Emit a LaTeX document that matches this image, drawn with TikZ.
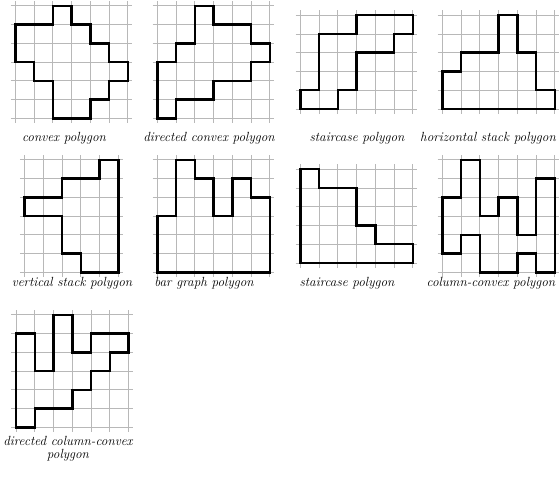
\documentclass[tikz,border=0pt]{standalone}
\tikzset{
  gridline/.style={draw=black!28, line width=0.8bp},
  polyline/.style={draw=black, line width=2.5bp, line join=miter},
  lab/.style={font=\fontsize{13.3}{13.5}\selectfont\itshape, inner sep=0pt, anchor=center, align=center},
}
\newcommand\gridpanel[5]{%
  \begin{scope}[shift={(#1bp,-#2bp)}, x=18.75bp, y=18.75bp]
    \foreach \i in {0,...,#3} \draw[gridline] (\i,-0.25) -- (\i,#4+0.25);
    \foreach \j in {0,...,#4} \draw[gridline] (-0.25,\j) -- (#3+0.25,\j);
    \draw[polyline] #5 -- cycle;
  \end{scope}}
\begin{document}
\begin{tikzpicture}
\useasboundingbox (0,0) rectangle (559bp,-481bp);
% row 1
\gridpanel{15.25}{118.25}{6}{6}{(0,5)--(2,5)--(2,6)--(3,6)--(3,5)--(4,5)--(4,4)--(5,4)--(5,3)--(6,3)--(6,2)--(5,2)--(5,1)--(4,1)--(4,0)--(2,0)--(2,2)--(1,2)--(1,3)--(0,3)}
\gridpanel{157.25}{118.25}{6}{6}{(2,6)--(3,6)--(3,5)--(5,5)--(5,4)--(6,4)--(6,3)--(5,3)--(5,2)--(3,2)--(3,1)--(1,1)--(1,0)--(0,0)--(0,3)--(1,3)--(1,4)--(2,4)}
\gridpanel{300.25}{108.9}{6}{5}{(0,0)--(2,0)--(2,1)--(3,1)--(3,3)--(5,3)--(5,4)--(6,4)--(6,5)--(3,5)--(3,4)--(1,4)--(1,1)--(0,1)}
\gridpanel{442.25}{108.9}{6}{5}{(0,0)--(6,0)--(6,1)--(5,1)--(5,3)--(4,3)--(4,5)--(3,5)--(3,3)--(1,3)--(1,2)--(0,2)}
% row 2
\gridpanel{24.6}{272.25}{5}{6}{(4,6)--(5,6)--(5,0)--(3,0)--(3,1)--(2,1)--(2,3)--(0,3)--(0,4)--(2,4)--(2,5)--(4,5)}
\gridpanel{157.25}{272.25}{6}{6}{(0,0)--(6,0)--(6,4)--(5,4)--(5,5)--(4,5)--(4,3)--(3,3)--(3,5)--(2,5)--(2,6)--(1,6)--(1,3)--(0,3)}
\gridpanel{300.25}{262.9}{6}{5}{(0,5)--(1,5)--(1,4)--(3,4)--(3,2)--(4,2)--(4,1)--(6,1)--(6,0)--(0,0)}
\gridpanel{442.25}{272.25}{6}{6}{(0,4)--(0,1)--(1,1)--(1,2)--(2,2)--(2,0)--(4,0)--(4,1)--(5,1)--(5,0)--(6,0)--(6,5)--(5,5)--(5,2)--(4,2)--(4,4)--(3,4)--(3,3)--(2,3)--(2,6)--(1,6)--(1,4)}
% row 3
\gridpanel{16}{427.25}{6}{6}{(0,0)--(0,5)--(1,5)--(1,3)--(2,3)--(2,6)--(3,6)--(3,4)--(4,4)--(4,5)--(6,5)--(6,4)--(5,4)--(5,3)--(4,3)--(4,2)--(3,2)--(3,1)--(1,1)--(1,0)}
% labels
\node[lab] (l1) at (64bp,-138bp) {convex polygon};
\node[lab] (l2) at (209bp,-138bp) {directed convex polygon};
\node[lab] (l3) at (357bp,-138bp) {staircase polygon};
\node[lab] (l4) at (488bp,-138bp) {horizontal stack polygon};
\node[lab] (l5) at (72bp,-283bp) {vertical stack polygon};
\node[lab] (l6) at (204bp,-283bp) {bar graph polygon};
\node[lab] (l7) at (347bp,-283bp) {staircase polygon};
\node[lab] (l8) at (491bp,-283bp) {column-convex polygon};
\node[lab] (l9) at (68bp,-449bp) {directed column-convex\\polygon};
\end{tikzpicture}
\end{document}
